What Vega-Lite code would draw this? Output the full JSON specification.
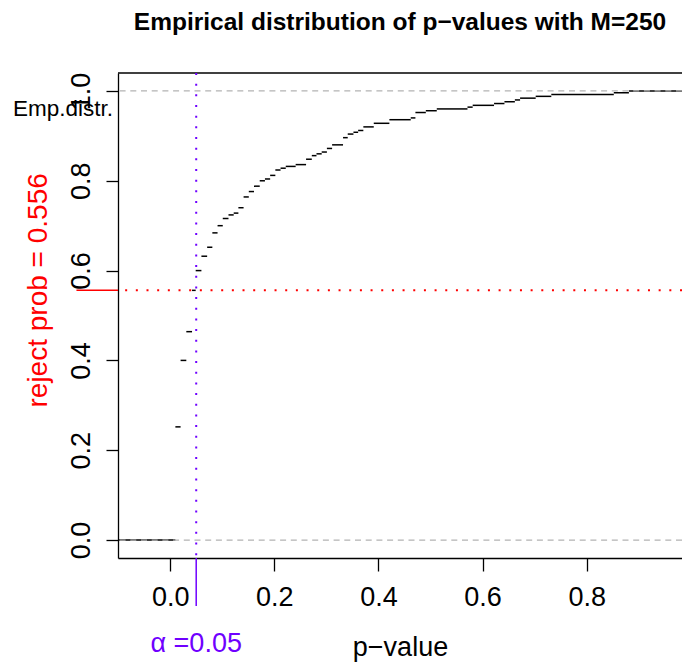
{
  "$schema": "https://vega.github.io/schema/vega-lite/v6.json",
  "width": 564,
  "height": 485,
  "autosize": "none",
  "padding": {"left": 118, "top": 73, "right": 0, "bottom": 104},
  "title": {"text": "Empirical distribution of p−values with M=250", "font": "Liberation Sans", "fontSize": 24.5, "fontWeight": "bold", "anchor": "middle", "frame": "group", "baseline": "alphabetic", "offset": 18, "color": "black"},
  "config": {
    "view": {"stroke": null},
    "axis": {"grid": false, "domainColor": "black", "domainWidth": 1.3, "tickColor": "black", "tickWidth": 1.3, "labelColor": "black", "labelFont": "Liberation Sans", "labelFontSize": 27, "titleFont": "Liberation Sans", "titleFontWeight": "normal", "titleColor": "black", "labelOverlap": false, "labelFlush": false}
  },
  "layer": [
    {
      "data": {"values": [
        {"x1": -0.3, "x2": 0.010, "F": 0.000},
        {"x1": 0.010, "x2": 0.020, "F": 0.252},
        {"x1": 0.020, "x2": 0.031, "F": 0.400},
        {"x1": 0.031, "x2": 0.042, "F": 0.464},
        {"x1": 0.042, "x2": 0.049, "F": 0.556},
        {"x1": 0.049, "x2": 0.060, "F": 0.600},
        {"x1": 0.060, "x2": 0.071, "F": 0.632},
        {"x1": 0.071, "x2": 0.081, "F": 0.652},
        {"x1": 0.081, "x2": 0.091, "F": 0.684},
        {"x1": 0.091, "x2": 0.101, "F": 0.700},
        {"x1": 0.101, "x2": 0.112, "F": 0.716},
        {"x1": 0.112, "x2": 0.122, "F": 0.724},
        {"x1": 0.122, "x2": 0.131, "F": 0.728},
        {"x1": 0.131, "x2": 0.141, "F": 0.740},
        {"x1": 0.141, "x2": 0.151, "F": 0.764},
        {"x1": 0.151, "x2": 0.161, "F": 0.776},
        {"x1": 0.161, "x2": 0.172, "F": 0.788},
        {"x1": 0.172, "x2": 0.182, "F": 0.800},
        {"x1": 0.182, "x2": 0.192, "F": 0.804},
        {"x1": 0.192, "x2": 0.202, "F": 0.812},
        {"x1": 0.202, "x2": 0.212, "F": 0.824},
        {"x1": 0.212, "x2": 0.222, "F": 0.828},
        {"x1": 0.222, "x2": 0.241, "F": 0.832},
        {"x1": 0.241, "x2": 0.261, "F": 0.836},
        {"x1": 0.261, "x2": 0.272, "F": 0.848},
        {"x1": 0.272, "x2": 0.281, "F": 0.856},
        {"x1": 0.281, "x2": 0.291, "F": 0.860},
        {"x1": 0.291, "x2": 0.301, "F": 0.864},
        {"x1": 0.301, "x2": 0.311, "F": 0.872},
        {"x1": 0.311, "x2": 0.332, "F": 0.880},
        {"x1": 0.332, "x2": 0.341, "F": 0.896},
        {"x1": 0.341, "x2": 0.352, "F": 0.904},
        {"x1": 0.352, "x2": 0.361, "F": 0.908},
        {"x1": 0.361, "x2": 0.371, "F": 0.912},
        {"x1": 0.371, "x2": 0.391, "F": 0.920},
        {"x1": 0.391, "x2": 0.421, "F": 0.928},
        {"x1": 0.421, "x2": 0.462, "F": 0.936},
        {"x1": 0.462, "x2": 0.471, "F": 0.940},
        {"x1": 0.471, "x2": 0.491, "F": 0.952},
        {"x1": 0.491, "x2": 0.512, "F": 0.956},
        {"x1": 0.512, "x2": 0.571, "F": 0.960},
        {"x1": 0.571, "x2": 0.581, "F": 0.964},
        {"x1": 0.581, "x2": 0.622, "F": 0.968},
        {"x1": 0.622, "x2": 0.642, "F": 0.972},
        {"x1": 0.642, "x2": 0.662, "F": 0.976},
        {"x1": 0.662, "x2": 0.672, "F": 0.980},
        {"x1": 0.672, "x2": 0.702, "F": 0.984},
        {"x1": 0.702, "x2": 0.732, "F": 0.988},
        {"x1": 0.732, "x2": 0.852, "F": 0.992},
        {"x1": 0.852, "x2": 0.881, "F": 0.996},
        {"x1": 0.881, "x2": 1.2, "F": 1.000}
      ]},
      "mark": {"type": "rule", "clip": true, "color": "black", "strokeWidth": 1.5},
      "encoding": {
        "x": {"field": "x1", "type": "quantitative",
          "scale": {"domain": [-0.1002, 0.983], "nice": false, "zero": false},
          "axis": {"values": [0, 0.2, 0.4, 0.6, 0.8], "format": ".1f", "tickSize": 13, "labelPadding": 34, "labelBaseline": "alphabetic", "title": "p−value", "titleFontSize": 27, "titleBaseline": "alphabetic", "titleY": 97}},
        "x2": {"field": "x2"},
        "y": {"field": "F", "type": "quantitative",
          "scale": {"domain": [-0.04, 1.04], "nice": false, "zero": false},
          "axis": {"values": [0, 0.2, 0.4, 0.6, 0.8, 1.0], "format": ".1f", "tickSize": 12, "labelAngle": 270, "labelAlign": "center", "labelBaseline": "alphabetic", "labelPadding": 17, "title": null}}
      }
    },
    {
      "data": {"values": [{"h": 0}, {"h": 1}]},
      "mark": {"type": "rule", "color": "#b3b3b3", "strokeWidth": 1.3, "strokeDash": [6, 4.7]},
      "encoding": {"y": {"field": "h", "type": "quantitative"}}
    },
    {
      "data": {"values": [{"h": 1.04}]},
      "mark": {"type": "rule", "color": "black", "strokeWidth": 1.3},
      "encoding": {"y": {"field": "h", "type": "quantitative"}}
    },
    {
      "data": {"values": [{"prob": 0.556}]},
      "mark": {"type": "rule", "color": "red", "strokeWidth": 2, "strokeDash": [2, 8.67]},
      "encoding": {"y": {"field": "prob", "type": "quantitative"}}
    },
    {
      "data": {"values": [{"xa": -0.18, "xb": -0.1002, "prob": 0.556}]},
      "mark": {"type": "rule", "color": "red", "strokeWidth": 1.5},
      "encoding": {"x": {"field": "xa", "type": "quantitative"}, "x2": {"field": "xb"}, "y": {"field": "prob", "type": "quantitative"}}
    },
    {
      "data": {"values": [{"alpha": 0.05}]},
      "mark": {"type": "rule", "color": "#6f00ff", "strokeWidth": 2, "strokeDash": [2, 8.67]},
      "encoding": {"x": {"field": "alpha", "type": "quantitative"}}
    },
    {
      "data": {"values": [{"alpha": 0.05, "ya": -0.04, "yb": -0.147}]},
      "mark": {"type": "rule", "color": "#6f00ff", "strokeWidth": 1.5},
      "encoding": {"x": {"field": "alpha", "type": "quantitative"}, "y": {"field": "ya", "type": "quantitative"}, "y2": {"field": "yb"}}
    },
    {
      "data": {"values": [{"tx": -0.2372, "ty": 0.556, "label": "reject prob = 0.556"}]},
      "mark": {"type": "text", "color": "red", "font": "Liberation Sans", "fontSize": 28, "angle": 270, "align": "center", "baseline": "alphabetic"},
      "encoding": {"x": {"field": "tx", "type": "quantitative"}, "y": {"field": "ty", "type": "quantitative"}, "text": {"field": "label"}}
    },
    {
      "data": {"values": [{"tx": 0.05, "ty": -0.249, "label": "α =0.05"}]},
      "mark": {"type": "text", "color": "#6f00ff", "font": "Liberation Sans", "fontSize": 27, "align": "center", "baseline": "alphabetic"},
      "encoding": {"x": {"field": "tx", "type": "quantitative"}, "y": {"field": "ty", "type": "quantitative"}, "text": {"field": "label"}}
    },
    {
      "data": {"values": [{"tx": -0.1002, "ty": 0.944, "label": "Emp.distr."}]},
      "mark": {"type": "text", "color": "black", "font": "Liberation Sans", "fontSize": 22.5, "align": "right", "baseline": "alphabetic", "dx": -5},
      "encoding": {"x": {"field": "tx", "type": "quantitative"}, "y": {"field": "ty", "type": "quantitative"}, "text": {"field": "label"}}
    }
  ]
}
